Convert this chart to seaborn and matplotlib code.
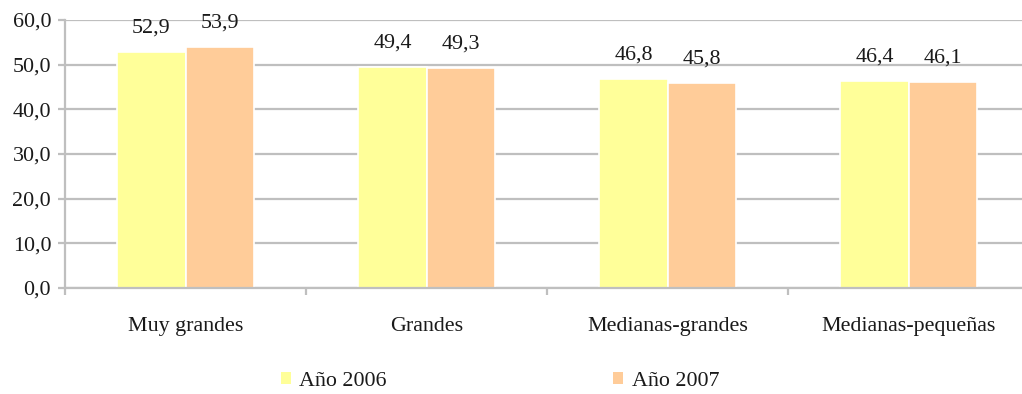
import matplotlib
matplotlib.use("Agg")
import matplotlib.pyplot as plt
import seaborn as sns
import pandas as pd
from matplotlib.patches import Patch

categories = ["Muy grandes", "Grandes", "Medianas-grandes", "Medianas-pequeñas"]
series_names = ["Año 2006", "Año 2007"]
values_2006 = [52.9, 49.4, 46.8, 46.4]
values_2007 = [53.9, 49.3, 45.8, 46.1]
y_ticks = [0, 10, 20, 30, 40, 50, 60]
colors = ["#FFFF99", "#FFCC99"]

df = pd.DataFrame({
    "cat": categories * 2,
    "serie": [series_names[0]] * 4 + [series_names[1]] * 4,
    "val": values_2006 + values_2007,
})

sns.set_style("white")
plt.rcParams["font.family"] = ["Liberation Serif", "DejaVu Serif"]
FS = 15.8

fig = plt.figure(figsize=(10.22, 3.94), dpi=100)
ax = fig.add_axes([65 / 1022, (394 - 288) / 394, 964 / 1022, 268 / 394])

sns.barplot(data=df, x="cat", y="val", hue="serie", order=categories,
            hue_order=series_names, palette=colors, width=0.565,
            edgecolor="white", linewidth=1.2, ax=ax, legend=False,
            saturation=1)

ax.set_ylim(0, 60)
ax.set_xlim(-0.5, 3.5)
ax.set_yticks(y_ticks)
ax.set_yticklabels([f"{v:.1f}".replace(".", ",") for v in y_ticks], fontsize=FS)
ax.set_xticks(range(len(categories)))
ax.set_xticklabels(categories, fontsize=FS)
ax.set_xlabel("")
ax.set_ylabel("")

grid_c = "#BFBFBF"
ax.yaxis.grid(True, color=grid_c, linewidth=1.6)
ax.set_axisbelow(True)
for s in ["top", "right"]:
    ax.spines[s].set_visible(False)
for s in ["left", "bottom"]:
    ax.spines[s].set_color(grid_c)
    ax.spines[s].set_linewidth(1.6)

ax.tick_params(axis="y", length=5, width=1.6, color=grid_c, direction="out", pad=5, left=True)
ax.tick_params(axis="x", which="major", length=0, pad=21)
ax.set_xticks([-0.5, 0.5, 1.5, 2.5, 3.5], minor=True)
ax.tick_params(axis="x", which="minor", length=5, width=1.6, color=grid_c, direction="out", bottom=True)
for lab in ax.get_xticklabels() + ax.get_yticklabels():
    lab.set_color("#1a1a1a")

for cont in ax.containers:
    for bar in cont:
        h = bar.get_height()
        ax.annotate(f"{h:.1f}".replace(".", ","),
                    (bar.get_x() + bar.get_width() / 2, h),
                    xytext=(0, 14), textcoords="offset points",
                    ha="center", va="baseline", fontsize=FS, color="#1a1a1a")

handles = [Patch(facecolor=c, edgecolor="none") for c in colors]
fig.legend(handles, series_names, loc="center", bbox_to_anchor=(500 / 1022, 1 - 381 / 394),
           ncol=2, frameon=False, fontsize=FS, handlelength=0.45, handleheight=0.45,
           handletextpad=0.4, columnspacing=10.3, labelcolor="#1a1a1a")

fig.savefig("out.png", dpi=100)
